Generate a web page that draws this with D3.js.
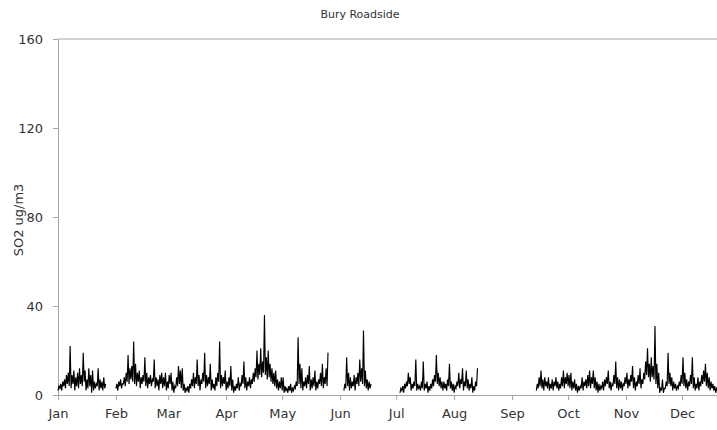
<!DOCTYPE html>
<html>
<head>
<meta charset="utf-8">
<script src="https://cdn.jsdelivr.net/npm/d3@7"></script>
<style>
  html, body { margin: 0; padding: 0; background: #fff; }
  svg { display: block; }
  text { font-family: "DejaVu Sans", Verdana, sans-serif; }
</style>
</head>
<body>
<svg id="chart" width="717" height="430"></svg>
<script>
// ---- DATA (values in ug/m3, two readings per day: 00:00 and 12:00) ----
const chartTitle = "Bury Roadside";
const yAxisTitle = "SO2 ug/m3";
const yTickValues = [0, 40, 80, 120, 160];
const monthLabels = ["Jan","Feb","Mar","Apr","May","Jun","Jul","Aug","Sep","Oct","Nov","Dec"];

const seg1Start = "2010-01-01";
const seg1 = [2,4, 3,5, 2,6, 4,7, 3,9, 5,10, 4,22, 3,9, 5,11, 2,8, 4,10, 3,12, 5,9,
  4,19, 6,11, 2,7, 3,12, 4,9, 1,11, 2,6, 3,5, 4,12, 2,7, 3,6, 2,8, 3,5];

const seg2Start = "2010-02-01";
const seg2 = [3,5, 2,6, 4,7, 3,5, 5,8, 4,10, 6,18, 5,12, 7,13, 6,24, 5,14, 4,10, 6,11,
  3,8, 5,9, 6,17, 4,10, 3,8, 5,9, 4,7, 6,16, 3,8, 4,7, 2,9, 5,10, 3,8, 4,10, 2,6, 3,9,
  5,10, 2,6, 1,4, 3,8, 4,13, 5,11, 3,12, 2,5, 1,3, 2,4, 1,5, 3,7, 4,10, 3,8, 5,16, 4,9,
  2,7, 5,10, 6,19, 3,9, 4,8, 5,14, 2,7, 3,5, 2,8, 4,10, 6,24, 3,9, 4,8, 5,11, 2,6, 3,8,
  4,13, 2,7, 1,4, 2,5, 3,8, 2,5, 4,9, 5,15, 3,8, 2,6, 4,8, 3,7, 5,10, 6,12, 8,20, 7,14,
  9,21, 8,15, 10,36, 9,17, 7,20, 8,14, 6,12, 5,10, 4,11, 3,7, 2,6, 3,8, 2,8, 1,4, 2,3,
  1,4, 2,5, 1,3, 2,4, 3,6, 4,26, 5,14, 3,12, 2,6, 4,8, 3,9, 5,13, 2,7, 3,8, 4,11, 2,6,
  3,7, 5,10, 4,14, 3,8, 5,12, 4,19];

const seg3Start = "2010-06-03";
const seg3 = [2,5, 3,17, 4,10, 2,8, 3,6, 4,9, 2,8, 5,10, 4,16, 6,12, 5,29, 4,11, 3,7,
  2,6, 3,5];

const seg4Start = "2010-07-03";
const seg4 = [1,3, 2,4, 1,5, 3,6, 4,10, 5,8, 2,5, 3,6, 4,16, 2,5, 3,4, 2,6, 3,15, 2,5,
  3,6, 1,4, 2,5, 3,7, 4,9, 6,18, 5,10, 4,8, 3,6, 2,6, 3,5, 2,7, 4,14, 3,6, 2,5, 1,4,
  3,6, 4,10, 3,7, 5,12, 2,6, 4,11, 3,7, 2,5, 3,8, 1,4, 2,6, 4,12];

const seg5Start = "2010-09-14";
const seg5 = [2,5, 3,8, 4,11, 3,7, 2,8, 4,6, 3,8, 2,5, 3,7, 2,6, 4,8, 3,6, 2,5, 3,8,
  4,11, 3,8, 5,10, 4,9, 3,10, 2,6, 3,7, 2,5, 1,4, 2,4, 3,8, 2,6, 4,7, 3,9, 4,11, 3,8,
  5,11, 3,8, 2,6, 1,5, 2,4, 3,6, 2,7, 4,8, 5,11, 3,6, 2,5, 4,9, 5,15, 3,8, 2,7, 3,6,
  2,5, 4,8, 5,10, 3,7, 4,9, 6,13, 3,8, 2,6, 4,9, 5,12, 3,7, 5,10, 7,15, 9,21, 8,14,
  6,17, 8,13, 7,31, 5,14, 3,10, 1,3, 2,7, 1,3, 3,6, 4,19, 5,10, 4,8, 2,6, 3,5, 2,4,
  3,6, 4,9, 5,17, 4,10, 3,7, 2,6, 4,9, 5,17, 3,8, 2,5, 3,8, 2,6, 4,9, 5,11, 6,14, 4,10,
  3,8, 2,6, 3,5, 2,4, 1,3, 2,4];

const segments = [
  {start: seg1Start, values: seg1},
  {start: seg2Start, values: seg2},
  {start: seg3Start, values: seg3},
  {start: seg4Start, values: seg4},
  {start: seg5Start, values: seg5}
];

// ---- CHART ----
const svg = d3.select("#chart");
const plotLeft = 58, plotRight = 740, plotTop = 39, plotBottom = 395;
const axisColor = "#a6a6a6";
const textColor = "#333";

const x = d3.scaleTime()
  .domain([new Date(2010, 0, 1), new Date(2011, 0, 1)])
  .range([plotLeft, plotRight]);
const y = d3.scaleLinear().domain([0, 160]).range([plotBottom, plotTop]);

const parse = d3.timeParse("%Y-%m-%d");
const halfDay = 12 * 3600 * 1000;

// title
svg.append("text")
  .attr("x", 360).attr("y", 18)
  .attr("text-anchor", "middle")
  .attr("font-size", 11)
  .attr("fill", textColor)
  .text(chartTitle);

// y axis title
svg.append("text")
  .attr("transform", "translate(23,220) rotate(-90)")
  .attr("text-anchor", "middle")
  .attr("font-size", 13)
  .attr("fill", textColor)
  .text(yAxisTitle);

// top frame line
svg.append("line")
  .attr("x1", plotLeft).attr("x2", 717)
  .attr("y1", plotTop).attr("y2", plotTop)
  .attr("stroke", axisColor).attr("stroke-width", 1);

// y axis
const yAxis = svg.append("g")
  .attr("transform", `translate(${plotLeft},0)`)
  .call(d3.axisLeft(y).tickValues(yTickValues).tickSize(5).tickSizeOuter(0).tickPadding(10));
yAxis.selectAll("text").attr("font-size", 13).attr("fill", textColor)
  .style("font-family", "'DejaVu Sans', Verdana, sans-serif");

// x axis
const monthTicks = d3.timeMonth.range(new Date(2010, 0, 1), new Date(2011, 0, 1));
const xAxis = svg.append("g")
  .attr("transform", `translate(0,${plotBottom})`)
  .call(d3.axisBottom(x).tickValues(monthTicks)
    .tickFormat((d, i) => monthLabels[i]).tickSize(5).tickSizeOuter(0).tickPadding(9));
xAxis.selectAll("text").attr("font-size", 13).attr("fill", textColor)
  .style("font-family", "'DejaVu Sans', Verdana, sans-serif");

[yAxis, xAxis].forEach(g => {
  g.selectAll("path.domain").attr("stroke", axisColor);
  g.selectAll(".tick line").attr("stroke", axisColor);
});

// data lines
const line = d3.line()
  .x(d => x(d.t))
  .y(d => y(d.v));

segments.forEach(seg => {
  const t0 = parse(seg.start).getTime();
  const pts = seg.values.map((v, i) => ({t: new Date(t0 + i * halfDay), v}));
  svg.append("path")
    .datum(pts)
    .attr("fill", "none")
    .attr("stroke", "#000")
    .attr("stroke-width", 1.15)
    .attr("stroke-linejoin", "miter")
    .attr("d", line);
});
</script>
</body>
</html>
